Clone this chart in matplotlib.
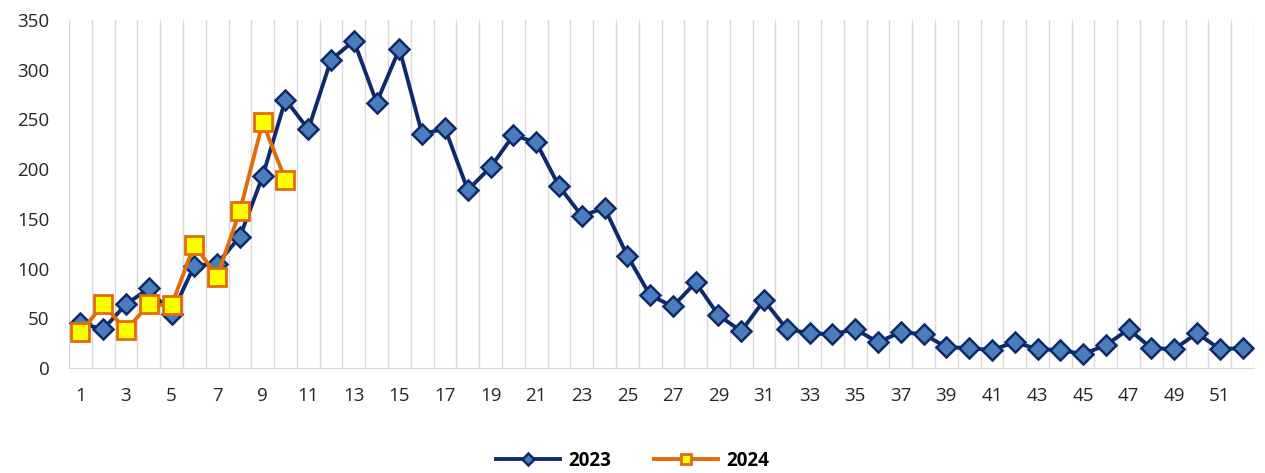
import matplotlib
matplotlib.use("Agg")
import matplotlib.pyplot as plt
import numpy as np

weeks = list(range(1, 53))
y2023 = [45, 39, 64, 80, 54, 103, 105, 132, 193, 270, 240, 310, 329, 267, 321, 235,
         241, 179, 202, 234, 227, 183, 153, 161, 113, 73, 62, 86, 53, 37, 68, 39,
         35, 34, 39, 26, 36, 34, 21, 20, 18, 26, 19, 18, 14, 23, 39, 20, 19, 35, 19, 20]
weeks2024 = list(range(1, 11))
y2024 = [36, 64, 38, 64, 63, 124, 92, 158, 247, 189]
tick_weeks = list(range(1, 53, 2))
y_ticks = [0, 50, 100, 150, 200, 250, 300, 350]

plt.rcParams['font.family'] = ['Open Sans', 'DejaVu Sans']

fig = plt.figure(figsize=(12.65, 4.73), dpi=100)
ax = fig.add_axes([69/1265, (473-368)/473, (1254-69)/1265, (368-20)/473])

navy = '#0f2a6b'
ax.plot(weeks, y2023, color=navy, lw=2.8, marker='D', ms=10,
        mfc='#4a7ebb', mec=navy, mew=1.8, label='2023', zorder=3)
ax.plot(weeks2024, y2024, color='#e36c0a', lw=2.8, marker='s', ms=13,
        mfc='#ffff00', mec='#e36c0a', mew=2, label='2024', zorder=4)

ax.set_xlim(0.5, 52.5)
ax.set_ylim(0, 350)
ax.set_xticks(tick_weeks)
ax.set_xticklabels([str(w) for w in tick_weeks])
ax.set_yticks(y_ticks)
ax.set_xticks(np.arange(0.5, 53, 1), minor=True)
ax.grid(True, axis='x', which='minor', color='#d9d9d9', lw=1)
ax.grid(False, axis='x', which='major')
ax.tick_params(axis='both', which='both', length=0, labelsize=13.5, colors='#262626')
ax.tick_params(axis='x', pad=14)
ax.tick_params(axis='y', pad=14)
for s in ['top', 'right', 'left']:
    ax.spines[s].set_visible(False)
ax.spines['bottom'].set_color('#d9d9d9')

leg = fig.legend(loc='center', bbox_to_anchor=(0.5, 1 - 461/473), ncol=2, frameon=False,
                 prop={'weight': 'bold', 'size': 13.5}, handlelength=3.4,
                 handletextpad=0.45, columnspacing=2.3, markerscale=0.6)
fig.savefig('out.png', dpi=100)
